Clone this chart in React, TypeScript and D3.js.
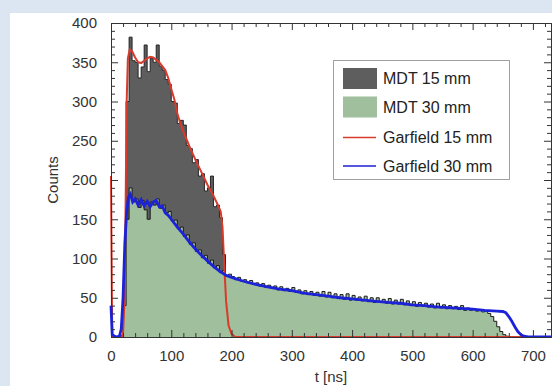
import React, { useEffect, useRef } from "react";
import * as d3 from "d3";

// drift time spectra, 5 ns bins
const binWidth = 5;
const mdt15Start = 15;
const mdt15Counts = [
  1, 40, 300, 382, 352, 350, 330, 344, 372, 338, 355, 350, 372, 345, 340, 328,
  322, 300, 298, 272, 276, 270, 244, 240, 222, 226, 205, 208, 186, 190, 205, 166,
  168, 152, 105, 8, 0,
];
const mdt30Start = 15;
const mdt30Counts = [
  2, 40, 150, 190, 172, 176, 165, 174, 162, 150, 172, 168, 176, 164, 168, 158,
  160, 148, 149, 138, 140, 128, 130, 118, 120, 109, 111, 101, 104, 94, 98, 88,
  91, 82, 85, 77, 80, 77, 73, 76, 71, 73, 69, 72, 67, 69, 65, 68,
  63, 66, 62, 65, 60, 64, 59, 62, 58, 63, 57, 60, 55, 59, 54, 58,
  53, 57, 52, 58, 51, 57, 50, 55, 49, 54, 48, 55, 47, 53, 47, 51,
  46, 52, 45, 50, 44, 50, 44, 48, 43, 49, 42, 47, 42, 48, 41, 46,
  40, 45, 39, 44, 39, 43, 38, 42, 37, 43, 37, 41, 36, 40, 36, 39,
  35, 40, 34, 37, 34, 36, 33, 35, 32, 33, 30, 26, 20, 13, 7, 3,
  1, 0,
];

// simulation curves
const garfield15Time = [
  0, 2, 18, 20, 22, 24, 26, 28, 31, 35, 40, 45, 50, 55, 60, 65, 70, 75, 80, 85,
  90, 95, 100, 105, 110, 115, 120, 130, 140, 150, 160, 170, 178, 182, 185, 188,
  191, 195, 200, 206, 730,
];
const garfield15Counts = [
  205, 0, 0, 5, 40, 150, 300, 355, 366, 364, 356, 350, 349, 352, 355, 357, 356,
  353, 350, 345, 340, 330, 316, 303, 285, 272, 262, 243, 226, 210, 194, 180, 167,
  160, 140, 90, 45, 15, 4, 0, 0,
];
const garfield30Time = [
  0, 2, 8, 14, 17, 20, 23, 26, 29, 32, 36, 40, 45, 50, 55, 60, 65, 70, 75, 80,
  85, 90, 95, 100, 110, 120, 130, 140, 150, 160, 170, 180, 190, 200, 220, 240,
  260, 280, 300, 320, 340, 360, 380, 400, 420, 440, 460, 480, 500, 520, 540, 560,
  580, 600, 620, 640, 650, 655, 660, 665, 670, 675, 680, 685, 692, 730,
];
const garfield30Counts = [
  40, 3, 0, 1, 10, 50, 120, 160, 178, 182, 172, 176, 168, 175, 167, 173, 166, 172,
  174, 166, 167, 158, 155, 150, 140, 131, 121, 112, 104, 97, 90, 84, 79, 76, 71,
  67, 64, 61, 59, 56, 54, 52, 50, 48.5, 47, 45.5, 44, 43, 41, 40, 38.5, 37.5, 36.5,
  35.5, 34, 33, 32.5, 31, 26, 20, 13, 7, 3, 1, 0, 0,
];

const xTicks = [0, 100, 200, 300, 400, 500, 600, 700];
const yTicks = [0, 50, 100, 150, 200, 250, 300, 350, 400];
const legendLabels = ["MDT 15 mm", "MDT 30 mm", "Garfield 15 mm", "Garfield 30 mm"];

const colors = {
  mdt15: "#5e5e5e",
  mdt30: "#a0bf9c",
  g15: "#d83a2c",
  g30: "#1c22d8",
};

const App = () => {
  const ref = useRef<SVGSVGElement | null>(null);

  useEffect(() => {
    draw();
  });

  const draw = () => {
    const W = 552;
    const H = 386;
    const svg = d3.select(ref.current);
    svg.selectAll("*").remove();

    svg.append("rect").attr("width", W).attr("height", H).attr("fill", "#dce6f2");
    svg.append("rect").attr("x", 10).attr("y", 13).attr("width", W - 10).attr("height", H - 13).attr("fill", "#ffffff");

    const x = d3.scaleLinear().domain([0, 730]).range([111, 551]);
    const y = d3.scaleLinear().domain([0, 400]).range([337, 23]);

    svg
      .append("defs")
      .append("clipPath")
      .attr("id", "plotClip")
      .append("rect")
      .attr("x", 109)
      .attr("y", 23)
      .attr("width", 442)
      .attr("height", 315);

    const plot = svg.append("g").attr("clip-path", "url(#plotClip)");

    const toBins = (start: number, counts: number[]) => {
      const pts = counts.map((c, i) => ({ t: start + i * binWidth, c }));
      pts.push({ t: start + counts.length * binWidth, c: 0 });
      return pts;
    };

    const area = d3
      .area<{ t: number; c: number }>()
      .x((d) => x(d.t))
      .y0(y(0))
      .y1((d) => y(d.c))
      .curve(d3.curveStepAfter);
    const step = d3
      .line<{ t: number; c: number }>()
      .x((d) => x(d.t))
      .y((d) => y(d.c))
      .curve(d3.curveStepAfter);

    const mdt15 = toBins(mdt15Start, mdt15Counts);
    const mdt30 = toBins(mdt30Start, mdt30Counts);

    plot.append("path").attr("d", area(mdt15)).attr("fill", colors.mdt15);
    plot.append("path").attr("d", step(mdt15)).attr("fill", "none").attr("stroke", "#1a1a1a").attr("stroke-width", 0.9);
    plot.append("path").attr("d", area(mdt30)).attr("fill", colors.mdt30);
    plot.append("path").attr("d", step(mdt30)).attr("fill", "none").attr("stroke", "#1a1a1a").attr("stroke-width", 1);

    const g15 = garfield15Time.map((t, i) => [x(t), y(garfield15Counts[i])] as [number, number]);
    const g30 = garfield30Time.map((t, i) => [x(t), y(garfield30Counts[i])] as [number, number]);
    const simLine = d3.line();

    plot.append("path").attr("d", simLine(g15)).attr("fill", "none").attr("stroke", colors.g15).attr("stroke-width", 2);
    plot.append("path").attr("d", simLine(g30)).attr("fill", "none").attr("stroke", colors.g30).attr("stroke-width", 2.8);

    // axes, ticks pointing inwards
    const axisColor = "#333";
    const font = "'Liberation Sans', Arial, sans-serif";
    const minorX = d3.range(0, 731, 20).filter((v) => v % 100 !== 0);
    const minorY = d3.range(0, 401, 10).filter((v) => v % 50 !== 0);

    const styleAxis = (g: any) => {
      g.selectAll("path,line").attr("stroke", axisColor);
      g.selectAll("text").attr("fill", "#333").style("font-family", font).style("font-size", "15px");
    };

    svg
      .append("g")
      .attr("transform", "translate(0,337)")
      .call(d3.axisBottom(x).tickValues(xTicks).tickSizeInner(-7).tickSizeOuter(0).tickPadding(13))
      .call(styleAxis);
    svg
      .append("g")
      .attr("transform", "translate(0,337)")
      .call(d3.axisBottom(x).tickValues(minorX).tickFormat(() => "").tickSizeInner(-4).tickSizeOuter(0))
      .call(styleAxis);
    svg
      .append("g")
      .attr("transform", "translate(0,23)")
      .call(d3.axisTop(x).tickValues(xTicks).tickFormat(() => "").tickSizeInner(-7).tickSizeOuter(0))
      .call(styleAxis);
    svg
      .append("g")
      .attr("transform", "translate(0,23)")
      .call(d3.axisTop(x).tickValues(minorX).tickFormat(() => "").tickSizeInner(-4).tickSizeOuter(0))
      .call(styleAxis);

    svg
      .append("g")
      .attr("transform", "translate(111,0)")
      .call(d3.axisLeft(y).tickValues(yTicks).tickSizeInner(-7).tickSizeOuter(0).tickPadding(14))
      .call(styleAxis);
    svg
      .append("g")
      .attr("transform", "translate(111,0)")
      .call(d3.axisLeft(y).tickValues(minorY).tickFormat(() => "").tickSizeInner(-4).tickSizeOuter(0))
      .call(styleAxis);
    svg
      .append("g")
      .attr("transform", "translate(551,0)")
      .call(d3.axisRight(y).tickValues(yTicks).tickFormat(() => "").tickSizeInner(-7).tickSizeOuter(0))
      .call(styleAxis);
    svg
      .append("g")
      .attr("transform", "translate(551,0)")
      .call(d3.axisRight(y).tickValues(minorY).tickFormat(() => "").tickSizeInner(-4).tickSizeOuter(0))
      .call(styleAxis);

    svg
      .append("text")
      .attr("transform", "translate(58,180) rotate(-90)")
      .attr("text-anchor", "middle")
      .attr("fill", "#333")
      .style("font-family", font)
      .style("font-size", "15px")
      .text("Counts");
    svg
      .append("text")
      .attr("x", 331)
      .attr("y", 382)
      .attr("text-anchor", "middle")
      .attr("fill", "#333")
      .style("font-family", font)
      .style("font-size", "15px")
      .text("t [ns]");

    // legend
    const lg = svg.append("g");
    lg.append("rect")
      .attr("x", 333.5)
      .attr("y", 60.5)
      .attr("width", 176)
      .attr("height", 119)
      .attr("fill", "#fff")
      .attr("stroke", "#a0a0a0");
    const rowY = [78.5, 107, 137.5, 166];
    legendLabels.forEach((label, i) => {
      if (i < 2) {
        lg.append("rect")
          .attr("x", 343)
          .attr("y", rowY[i] - 10.5)
          .attr("width", 34)
          .attr("height", 21)
          .attr("fill", i === 0 ? colors.mdt15 : colors.mdt30);
      } else {
        lg.append("line")
          .attr("x1", 343)
          .attr("x2", 376)
          .attr("y1", rowY[i])
          .attr("y2", rowY[i])
          .attr("stroke", i === 2 ? colors.g15 : colors.g30)
          .attr("stroke-width", 1.3);
      }
      lg.append("text")
        .attr("x", 383)
        .attr("y", rowY[i] + 5.5)
        .attr("fill", "#222")
        .style("font-family", font)
        .style("font-size", "16px")
        .text(label);
    });
  };

  return (
    <svg
      ref={ref}
      width={552}
      height={386}
      style={{ position: "absolute", left: 0, top: 0, display: "block" }}
    />
  );
};

export default App;
